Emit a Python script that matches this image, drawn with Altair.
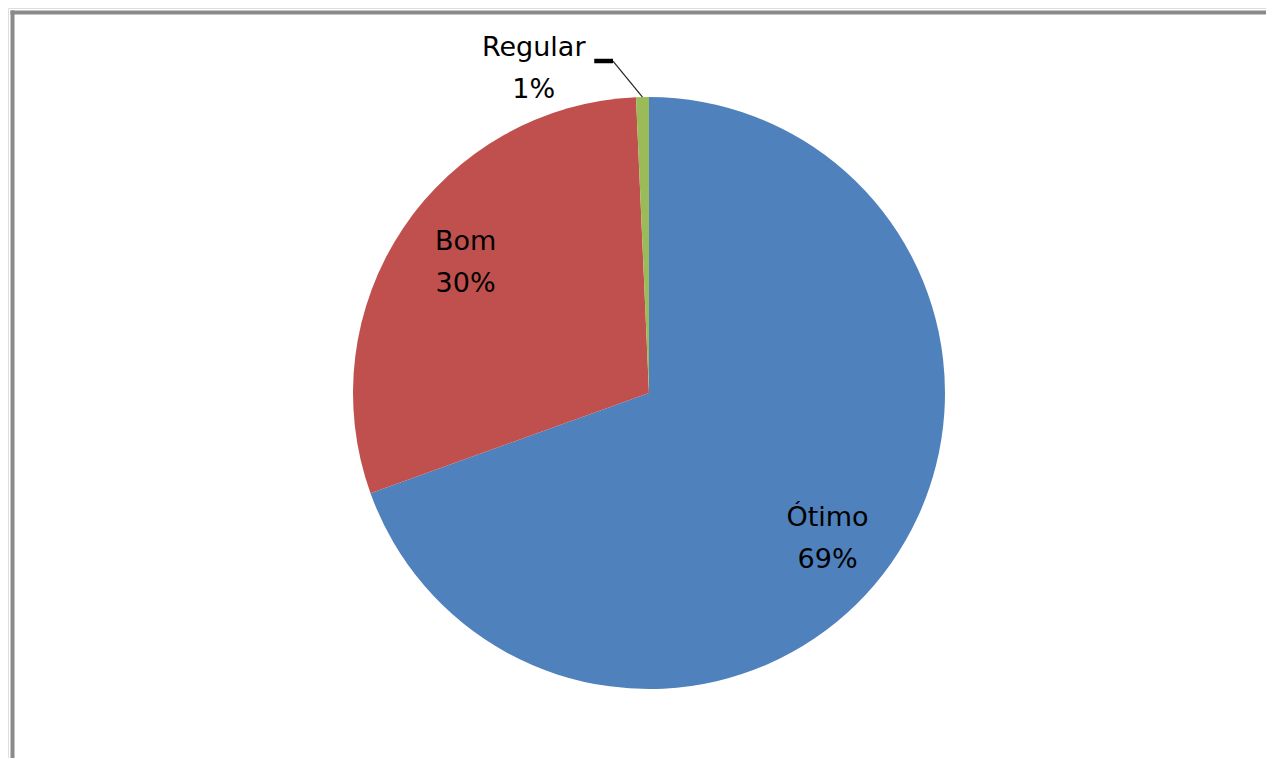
import math
import altair as alt
import pandas as pd

categories = ["Ótimo", "Bom", "Regular"]
values = [69.5, 29.8, 0.7]
pct_labels = ["69%", "30%", "1%"]
colors = ["#4F81BD", "#C0504D", "#9BBB59"]

W, H = 1258, 750
CX, CY, R = 641, 385, 296
FONT = "DejaVu Sans"
FS = 27
LH = 42

df = pd.DataFrame({
    "cat": categories,
    "value": values,
    "order": list(range(len(categories))),
})
for c, p in zip(categories, pct_labels):
    df["lab_" + c] = [f"{c}\n{p}" if cc == c else "" for cc in categories]

base = alt.Chart(df).encode(
    theta=alt.Theta("value:Q", stack=True),
    order=alt.Order("order:Q"),
    x=alt.value(CX),
    y=alt.value(CY),
)

pie = base.mark_arc(outerRadius=R, stroke=None).encode(
    color=alt.Color("cat:N", scale=alt.Scale(domain=categories, range=colors), legend=None)
)

def label_layer(cat, radius, dx, dy):
    return base.mark_text(radius=radius, font=FONT, fontSize=FS, lineBreak="\n",
                          lineHeight=LH, color="black", baseline="middle",
                          dx=dx, dy=dy).encode(text=alt.Text("lab_" + cat + ":N"))

t_otimo = label_layer("Ótimo", 228, -8, -6)
t_bom = label_layer("Bom", 228, 6, -24)
t_reg = label_layer("Regular", 330, -108, -15)

# leader line for the small "Regular" slice, anchored at its mid angle
total = sum(values)
mid = (sum(values[:2]) + values[2] / 2) / total * 2 * math.pi
edge = (math.sin(mid), math.cos(mid))
leader_diag = pd.DataFrame({"x": [edge[0], -0.1216], "y": [edge[1], 1.1216], "i": [0, 1]})
leader_bar = pd.DataFrame({"x": [-0.1216, -0.185], "y": [1.1216, 1.1216], "i": [0, 1]})
xs = alt.Scale(domain=[-1, 1], range=[CX - R, CX + R])
ys = alt.Scale(domain=[-1, 1], range=[CY + R, CY - R])

diag = alt.Chart(leader_diag).mark_line(color="#222222", strokeWidth=1.2).encode(
    x=alt.X("x:Q", scale=xs, axis=None), y=alt.Y("y:Q", scale=ys, axis=None), order="i:Q")
bar = alt.Chart(leader_bar).mark_line(color="black", strokeWidth=4.5).encode(
    x=alt.X("x:Q", scale=xs, axis=None), y=alt.Y("y:Q", scale=ys, axis=None), order="i:Q")

frame_df = pd.DataFrame({"k": [0]})
left = alt.Chart(frame_df).mark_rule(color="#8a8a8a", strokeWidth=4).encode(
    x=alt.value(4.5), y=alt.value(2.5), y2=alt.value(H))
top = alt.Chart(frame_df).mark_rule(color="#8a8a8a", strokeWidth=4).encode(
    x=alt.value(2.5), x2=alt.value(W), y=alt.value(4.5))

chart = alt.layer(left, top, pie, t_otimo, t_bom, diag, bar, t_reg).properties(
    width=W, height=H, padding=0, autosize="none"
).configure_view(stroke=None).configure(background="white")

chart.save("out.html", embed_options={"renderer": "svg", "actions": False})
